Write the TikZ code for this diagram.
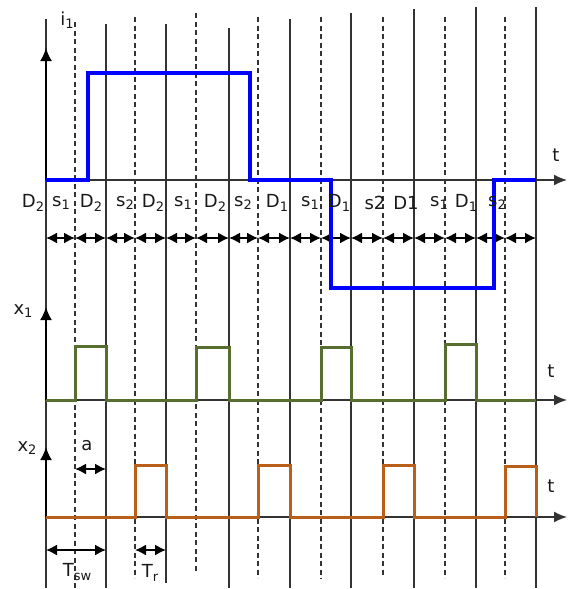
\documentclass[tikz,border=0pt]{standalone}
\usepackage{fontspec}
\setmainfont{DejaVu Sans}
\usetikzlibrary{arrows.meta}
\definecolor{ibl}{RGB}{0,0,255}
\definecolor{xgr}{RGB}{88,110,48}
\definecolor{xor}{RGB}{185,95,25}
\newcommand\lbl[2]{#1\raisebox{-0.35ex}{\fontsize{13}{13}\selectfont #2}}
\begin{document}
\begin{tikzpicture}[x=1pt,y=-1pt,
  vsolid/.style={draw=black!80, line width=1.5pt},
  vdash/.style={draw=black!80, line width=1.5pt, dash pattern=on 5pt off 3.5pt},
  haxis/.style={draw=black!80, line width=1.6pt, -{Latex[length=13pt,width=11pt]}},
  vaxis/.style={draw=black, line width=2pt, -{Latex[length=13pt,width=12pt]}},
  dim/.style={black, line width=1.6pt, {Latex[length=11pt,width=11pt]}-{Latex[length=11pt,width=11pt]}},
  txt/.style={font=\fontsize{18}{20}\selectfont, inner sep=0pt, text=black!90},
  sig/.style={line width=#1, line join=miter},
]
\useasboundingbox (0,0) rectangle (572,589);
% solid vertical grid lines
\foreach \x/\t/\b in {46/19/588,106/24/588,166/24/583,229/28/588,290/19/588,351/13/588,414/9/588,476/7/588,536/7/588}
  \draw[vsolid] (\x,\t) -- (\x,\b);
% dashed vertical grid lines
\foreach \x/\t/\b in {75/22/588,135/17/578,196/13/573,258/17/578,321/17/579,383/17/577,445/17/578,505/17/578}
  \draw[vdash] (\x,\t) -- (\x,\b);
% axes
\coordinate (o1) at (46,180); \coordinate (e1) at (567,180); \coordinate (v1) at (46,48);
\coordinate (o2) at (46,400); \coordinate (e2) at (567,400); \coordinate (v2) at (46,307);
\coordinate (o3) at (46,517); \coordinate (e3) at (567,517); \coordinate (v3) at (46,447);
\draw[haxis] (o1) -- (e1);
\draw[haxis] (o2) -- (e2);
\draw[haxis] (o3) -- (e3);
\draw[vaxis] (o1) -- (v1);
\draw[vaxis] (o2) -- (v2);
\draw[vaxis] (o3) -- (v3);
% row of double arrows
\foreach \x [count=\i] in {46,75,106,135,166,196,229,258,290,321,351,383,414,445,476,505,536}
  \coordinate (r\i) at (\x,238);
\foreach \i [evaluate=\i as \j using int(\i+1)] in {1,...,16}
  \draw[dim] (r\i) -- (r\j);
% signals
\draw[ibl, sig=3.5pt] (46,180) -- (88,180) -- (88,73) -- (250,73) -- (250,180) -- (331,180) -- (331,288) -- (494,288) -- (494,180) -- (536,180);
\draw[xgr, sig=3pt] (46,400) -- (75,400) -- (75,346) -- (106,346) -- (106,400) -- (196,400) -- (196,347) -- (229,347) -- (229,400) -- (321,400) -- (321,347) -- (351,347) -- (351,400) -- (445,400) -- (445,344) -- (476,344) -- (476,400) -- (536,400);
\draw[xor, sig=3pt] (46,517) -- (135,517) -- (135,465) -- (166,465) -- (166,517) -- (258,517) -- (258,465) -- (290,465) -- (290,517) -- (383,517) -- (383,465) -- (414,465) -- (414,517) -- (505,517) -- (505,466) -- (536,466) -- (536,517);
% dimension arrows
\coordinate (a1) at (75,469); \coordinate (a2) at (106,469);
\coordinate (s1) at (46,550); \coordinate (s2) at (106,550);
\coordinate (t1) at (135,550); \coordinate (t2) at (166,550);
\draw[dim] (a1) -- (a2);
\draw[dim] (s1) -- (s2);
\draw[dim] (t1) -- (t2);
% axis labels
\node[txt] (li) at (67,20) {\lbl{i}{1}};
\node[txt] (lx1) at (23,311) {\lbl{x}{1}};
\node[txt] (lx2) at (27,448) {\lbl{x}{2}};
\node[txt] (lt1) at (556,155) {t};
\node[txt] (lt2) at (551,371) {t};
\node[txt] (lt3) at (551,486) {t};
\node[txt] (la) at (87,446) {a};
\node[txt] (lsw) at (77,572) {\lbl{T}{sw}};
\node[txt] (ltr) at (150,573) {\lbl{T}{r}};
% switching state labels
\foreach \x/\s in {33/{\lbl{D}{2}},61/{\lbl{s}{1}},91/{\lbl{D}{2}},125/{\lbl{s}{2}},153/{\lbl{D}{2}},183/{\lbl{s}{1}},215/{\lbl{D}{2}},243/{\lbl{s}{2}},277/{\lbl{D}{1}},310/{\lbl{s}{1}},339/{\lbl{D}{1}},375/{s2},406/{D1},439/{\lbl{s}{1}},466/{\lbl{D}{1}},497/{\lbl{s}{2}}}
  \node[txt] at (\x,203) {\s};
\end{tikzpicture}
\end{document}
